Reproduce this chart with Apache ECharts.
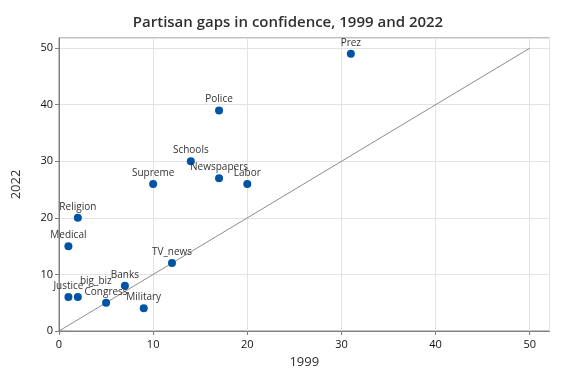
<!DOCTYPE html>
<html><head><meta charset="utf-8">
<script src="https://cdn.jsdelivr.net/npm/echarts@6/dist/echarts.min.js"></script>
<style>html,body{margin:0;padding:0;background:#fff}#c{width:576px;height:384px}</style>
</head><body><div id="c"></div>
<script>
const institutions = ['Prez','Police','Schools','Supreme','Newspapers','Labor','Religion','Medical','TV_news','Banks','Justice','big_biz','Congress','Military'];
const gap1999 = [31,17,14,10,17,20,2,1,12,7,1,2,5,9];
const gap2022 = [49,39,30,26,27,26,20,15,12,8,6,6,5,4];
const refLine = [0,50];
const xTicks = [0,10,20,30,40,50];

const font = '"Open Sans", "Noto Sans", sans-serif';
const pts = institutions.map((n,i)=>{
  const d = {name:n, value:[gap1999[i], gap2022[i]]};
  if (n==='big_biz') d.label = {offset:[18,-5]};
  return d;
});
const chart = echarts.init(document.getElementById('c'));
chart.setOption({
  animation:false,
  backgroundColor:'#fff',
  title:{text:'Partisan gaps in confidence, 1999 and 2022', left:'center', top:10,
    textStyle:{fontFamily:font, fontSize:15, fontWeight:600, color:'#303030'}},
  grid:{left:59, right:26.5, top:38, bottom:53, show:true, borderColor:'#808080', borderWidth:1},
  xAxis:{type:'value', min:0, max:52.1, interval:10, name:'1999', nameLocation:'middle', nameGap:25,
    nameTextStyle:{fontFamily:font, fontSize:13, color:'#303030'},
    axisLine:{show:true, onZero:false, lineStyle:{color:'#808080'}},
    axisTick:{show:true, length:4, lineStyle:{color:'#808080'}},
    axisLabel:{fontFamily:font, fontSize:11, color:'#111', showMaxLabel:false,
      formatter:v=> xTicks.includes(v)? String(v):''},
    splitLine:{show:true, lineStyle:{color:'#e3e3e3'}}},
  yAxis:{type:'value', min:0, max:51.8, interval:10, name:'2022', nameLocation:'middle', nameGap:36,
    nameTextStyle:{fontFamily:font, fontSize:13, color:'#303030'},
    axisLine:{show:true, onZero:false, lineStyle:{color:'#808080'}},
    axisTick:{show:true, length:4, lineStyle:{color:'#808080'}},
    axisLabel:{fontFamily:font, fontSize:11, color:'#111', margin:6, showMaxLabel:false,
      formatter:v=> xTicks.includes(v)? String(v):''},
    splitLine:{show:true, lineStyle:{color:'#e3e3e3'}}},
  series:[
    {type:'line', data:[[refLine[0],refLine[0]],[refLine[1],refLine[1]]], symbol:'none',
      lineStyle:{color:'#707070', width:0.8}, silent:true, z:1},
    {type:'scatter', data:pts, symbolSize:8, itemStyle:{color:'#0054a6', opacity:1}, z:3,
      label:{show:true, position:'top', distance:2, formatter:p=>p.name,
        fontFamily:font, fontSize:10, color:'#333'}}
  ]
});
</script></body></html>
